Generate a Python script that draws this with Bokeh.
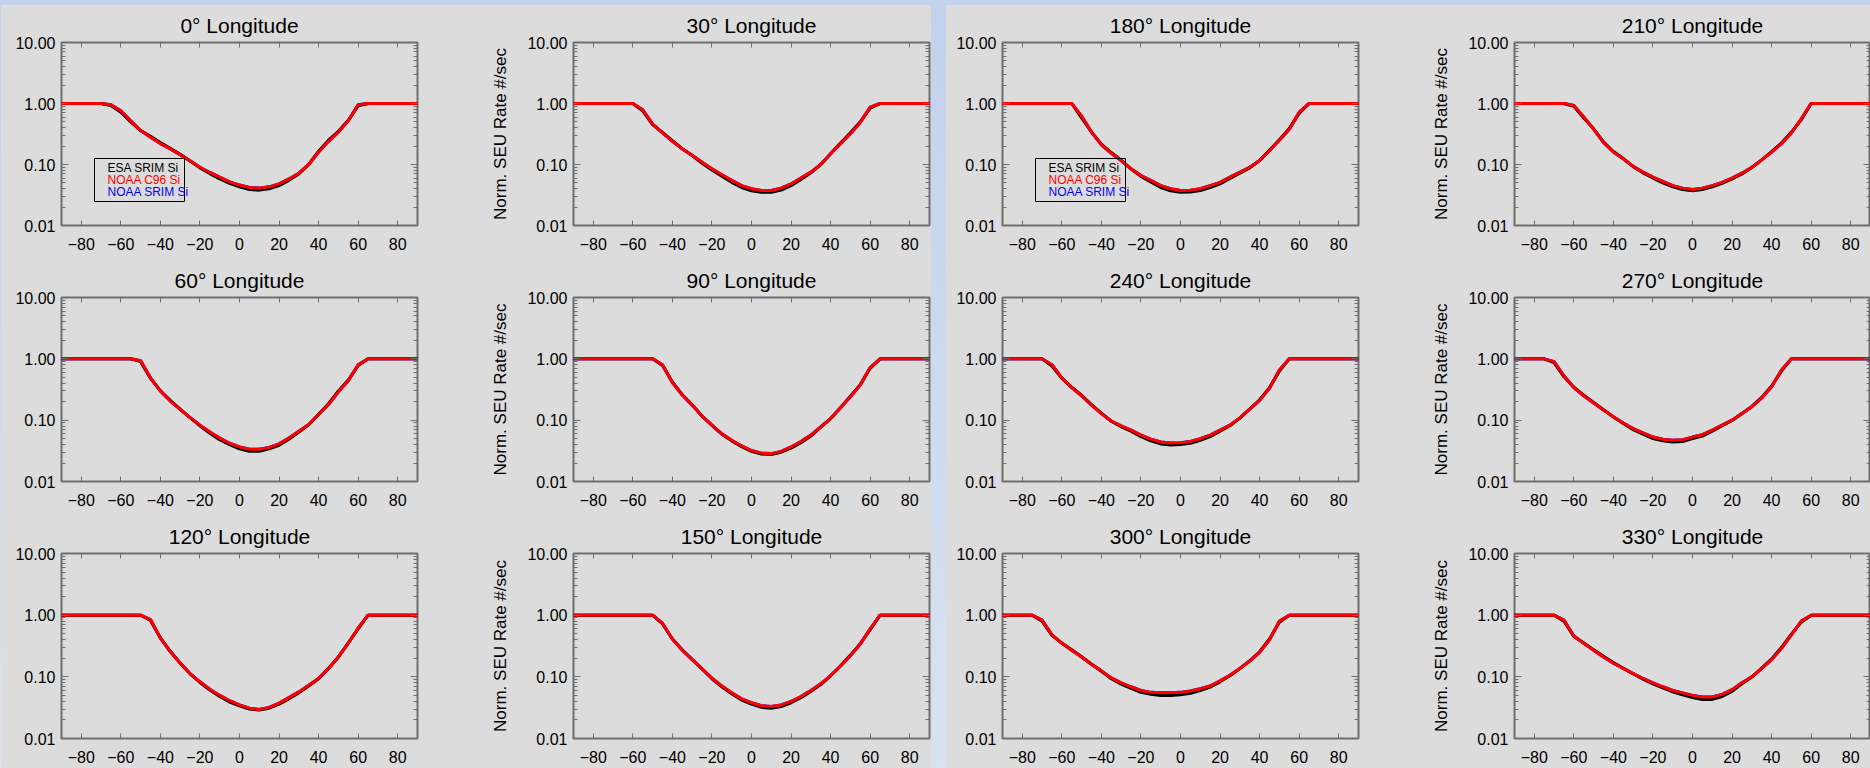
from bokeh.plotting import figure
from bokeh.layouts import row, column, Spacer
from bokeh.models import (Range1d, FixedTicker, PrintfTickFormatter, LinearAxis, LogAxis,
                          Label, BoxAnnotation, CustomJSTickFormatter)
from bokeh.embed import file_html
from bokeh.resources import INLINE

# ---------------- data ----------------
latitude = [-90, -85, -80, -75, -70, -65, -60, -55, -50, -45, -40, -35, -30, -25, -20, -15, -10, -5,
            0, 5, 10, 15, 20, 25, 30, 35, 40, 45, 50, 55, 60, 65, 70, 75, 80, 85, 90]
x_ticks = [-80, -60, -40, -20, 0, 20, 40, 60, 80]
y_ticks = [0.01, 0.1, 1.0, 10.0]
series_names = ["ESA SRIM Si", "NOAA C96 Si", "NOAA SRIM Si"]
series_colors = ["black", "red", "blue"]

# 0 deg
esa_srim_0 = [1, 1, 1, 1, 1, 0.93, 0.72, 0.50, 0.36, 0.29, 0.23, 0.185, 0.147, 0.114, 0.088, 0.071, 0.058,
              0.049, 0.043, 0.039, 0.038, 0.040, 0.045, 0.055, 0.070, 0.10, 0.165, 0.25, 0.35, 0.53, 0.92,
              1, 1, 1, 1, 1, 1]
noaa_c96_0 = [1, 1, 1, 1, 1, 0.95, 0.76, 0.52, 0.36, 0.28, 0.22, 0.18, 0.145, 0.115, 0.090, 0.074, 0.062,
              0.052, 0.046, 0.042, 0.041, 0.043, 0.048, 0.058, 0.072, 0.10, 0.16, 0.24, 0.34, 0.52, 0.95,
              1, 1, 1, 1, 1, 1]
# 30 deg
esa_srim_30 = [1, 1, 1, 1, 1, 1, 1, 0.76, 0.45, 0.335, 0.245, 0.182, 0.14, 0.105, 0.081, 0.064, 0.051, 0.042,
               0.037, 0.035, 0.035, 0.038, 0.045, 0.057, 0.073, 0.10, 0.15, 0.225, 0.33, 0.50, 0.84,
               1, 1, 1, 1, 1, 1]
noaa_c96_30 = [1, 1, 1, 1, 1, 1, 1, 0.79, 0.46, 0.33, 0.24, 0.18, 0.142, 0.109, 0.085, 0.068, 0.055, 0.045,
               0.040, 0.0375, 0.0375, 0.041, 0.048, 0.060, 0.075, 0.10, 0.15, 0.22, 0.32, 0.49, 0.87,
               1, 1, 1, 1, 1, 1]
# 60 deg
esa_srim_60 = [1, 1, 1, 1, 1, 1, 1, 1, 0.90, 0.48, 0.30, 0.21, 0.152, 0.11, 0.081, 0.061, 0.048, 0.040,
               0.034, 0.031, 0.031, 0.034, 0.039, 0.049, 0.064, 0.084, 0.125, 0.185, 0.30, 0.45, 0.78,
               1, 1, 1, 1, 1, 1]
noaa_c96_60 = [1, 1, 1, 1, 1, 1, 1, 1, 0.93, 0.49, 0.30, 0.205, 0.15, 0.11, 0.083, 0.064, 0.051, 0.042,
               0.0366, 0.0335, 0.0335, 0.036, 0.041, 0.051, 0.066, 0.085, 0.124, 0.18, 0.29, 0.44, 0.80,
               1, 1, 1, 1, 1, 1]
# 90 deg
esa_srim_90 = [1, 1, 1, 1, 1, 1, 1, 1, 1, 0.78, 0.42, 0.26, 0.178, 0.117, 0.082, 0.059, 0.046, 0.037,
               0.031, 0.028, 0.0275, 0.030, 0.035, 0.043, 0.055, 0.077, 0.106, 0.16, 0.245, 0.38, 0.70,
               1, 1, 1, 1, 1, 1]
noaa_c96_90 = [1, 1, 1, 1, 1, 1, 1, 1, 1, 0.80, 0.41, 0.257, 0.176, 0.116, 0.083, 0.060, 0.047, 0.038,
               0.032, 0.029, 0.0285, 0.031, 0.0366, 0.045, 0.057, 0.078, 0.106, 0.16, 0.24, 0.375, 0.72,
               1, 1, 1, 1, 1, 1]
# 120 deg
esa_srim_120 = [1, 1, 1, 1, 1, 1, 1, 1, 1, 0.82, 0.43, 0.26, 0.168, 0.112, 0.081, 0.061, 0.048, 0.039,
                0.034, 0.030, 0.029, 0.031, 0.036, 0.044, 0.055, 0.071, 0.093, 0.137, 0.21, 0.355, 0.60,
                1, 1, 1, 1, 1, 1]
noaa_c96_120 = [1, 1, 1, 1, 1, 1, 1, 1, 1, 0.85, 0.425, 0.257, 0.166, 0.113, 0.083, 0.063, 0.050, 0.041,
                0.035, 0.031, 0.0295, 0.032, 0.0375, 0.046, 0.057, 0.073, 0.094, 0.137, 0.21, 0.35, 0.62,
                1, 1, 1, 1, 1, 1]
# 150 deg
esa_srim_150 = [1, 1, 1, 1, 1, 1, 1, 1, 1, 0.72, 0.41, 0.275, 0.192, 0.134, 0.093, 0.069, 0.053, 0.042,
                0.036, 0.032, 0.031, 0.033, 0.038, 0.046, 0.058, 0.075, 0.104, 0.15, 0.225, 0.345, 0.58,
                1, 1, 1, 1, 1, 1]
noaa_c96_150 = [1, 1, 1, 1, 1, 1, 1, 1, 1, 0.74, 0.41, 0.27, 0.19, 0.135, 0.095, 0.071, 0.055, 0.044,
                0.038, 0.034, 0.033, 0.035, 0.040, 0.048, 0.060, 0.077, 0.105, 0.15, 0.22, 0.34, 0.60,
                1, 1, 1, 1, 1, 1]
# 180 deg
esa_srim_180 = [1, 1, 1, 1, 1, 1, 1, 1, 0.58, 0.34, 0.215, 0.157, 0.118, 0.084, 0.064, 0.052, 0.042, 0.037,
                0.035, 0.0355, 0.0375, 0.042, 0.048, 0.059, 0.072, 0.088, 0.116, 0.172, 0.255, 0.39, 0.69,
                1, 1, 1, 1, 1, 1]
noaa_c96_180 = [1, 1, 1, 1, 1, 1, 1, 1, 0.62, 0.34, 0.21, 0.153, 0.116, 0.085, 0.066, 0.055, 0.045, 0.040,
                0.0375, 0.038, 0.040, 0.045, 0.051, 0.062, 0.075, 0.090, 0.116, 0.17, 0.25, 0.38, 0.72,
                1, 1, 1, 1, 1, 1]
# 210 deg
esa_srim_210 = [1, 1, 1, 1, 1, 1, 0.90, 0.58, 0.385, 0.235, 0.163, 0.125, 0.092, 0.073, 0.060, 0.050, 0.043,
                0.039, 0.037, 0.039, 0.043, 0.049, 0.058, 0.070, 0.089, 0.119, 0.162, 0.225, 0.34, 0.54,
                1, 1, 1, 1, 1, 1, 1]
noaa_c96_210 = [1, 1, 1, 1, 1, 1, 0.93, 0.60, 0.38, 0.23, 0.16, 0.124, 0.093, 0.075, 0.062, 0.053, 0.045,
                0.041, 0.039, 0.041, 0.045, 0.051, 0.060, 0.072, 0.090, 0.119, 0.16, 0.22, 0.33, 0.56,
                1, 1, 1, 1, 1, 1, 1]
# 240 deg
esa_srim_240 = [1, 1, 1, 1, 1, 0.76, 0.48, 0.345, 0.255, 0.18, 0.13, 0.096, 0.078, 0.066, 0.054, 0.046,
                0.041, 0.0395, 0.040, 0.042, 0.047, 0.054, 0.066, 0.081, 0.108, 0.152, 0.215, 0.34, 0.63,
                1, 1, 1, 1, 1, 1, 1, 1]
noaa_c96_240 = [1, 1, 1, 1, 1, 0.80, 0.49, 0.34, 0.25, 0.176, 0.128, 0.097, 0.081, 0.069, 0.057, 0.049,
                0.044, 0.0425, 0.043, 0.045, 0.050, 0.057, 0.069, 0.083, 0.109, 0.151, 0.21, 0.33, 0.66,
                1, 1, 1, 1, 1, 1, 1, 1]
# 270 deg
esa_srim_270 = [1, 1, 1, 1, 0.87, 0.51, 0.345, 0.255, 0.195, 0.148, 0.113, 0.088, 0.070, 0.059, 0.050,
                0.046, 0.044, 0.045, 0.050, 0.055, 0.066, 0.081, 0.099, 0.128, 0.168, 0.235, 0.36, 0.63,
                1, 1, 1, 1, 1, 1, 1, 1, 1]
noaa_c96_270 = [1, 1, 1, 1, 0.90, 0.53, 0.34, 0.25, 0.19, 0.146, 0.114, 0.090, 0.073, 0.062, 0.053,
                0.049, 0.047, 0.048, 0.053, 0.058, 0.069, 0.083, 0.100, 0.128, 0.166, 0.23, 0.35, 0.66,
                1, 1, 1, 1, 1, 1, 1, 1, 1]
# 300 deg
esa_srim_300 = [1, 1, 1, 1, 0.80, 0.47, 0.355, 0.275, 0.212, 0.16, 0.123, 0.093, 0.076, 0.065, 0.056,
                0.052, 0.050, 0.050, 0.051, 0.054, 0.060, 0.068, 0.083, 0.104, 0.136, 0.182, 0.255, 0.41,
                0.77, 1, 1, 1, 1, 1, 1, 1, 1]
noaa_c96_300 = [1, 1, 1, 1, 0.83, 0.48, 0.35, 0.27, 0.21, 0.16, 0.125, 0.096, 0.080, 0.069, 0.060,
                0.056, 0.055, 0.055, 0.056, 0.059, 0.064, 0.071, 0.086, 0.106, 0.137, 0.18, 0.25, 0.40,
                0.80, 1, 1, 1, 1, 1, 1, 1, 1]
# 330 deg
esa_srim_330 = [1, 1, 1, 1, 1, 0.80, 0.45, 0.355, 0.275, 0.215, 0.17, 0.138, 0.112, 0.092, 0.077, 0.066,
                0.057, 0.051, 0.046, 0.043, 0.043, 0.048, 0.058, 0.077, 0.099, 0.138, 0.195, 0.30, 0.49,
                0.77, 1, 1, 1, 1, 1, 1, 1]
noaa_c96_330 = [1, 1, 1, 1, 1, 0.83, 0.46, 0.35, 0.27, 0.21, 0.166, 0.137, 0.113, 0.094, 0.080, 0.069,
                0.060, 0.055, 0.050, 0.047, 0.047, 0.052, 0.062, 0.080, 0.100, 0.137, 0.19, 0.29, 0.48,
                0.80, 1, 1, 1, 1, 1, 1, 1]

# NOAA SRIM Si lies exactly underneath NOAA C96 Si in every panel (not visible in the figure)
noaa_srim = {0: noaa_c96_0, 30: noaa_c96_30, 60: noaa_c96_60, 90: noaa_c96_90, 120: noaa_c96_120,
             150: noaa_c96_150, 180: noaa_c96_180, 210: noaa_c96_210, 240: noaa_c96_240,
             270: noaa_c96_270, 300: noaa_c96_300, 330: noaa_c96_330}
esa_srim = {0: esa_srim_0, 30: esa_srim_30, 60: esa_srim_60, 90: esa_srim_90, 120: esa_srim_120,
            150: esa_srim_150, 180: esa_srim_180, 210: esa_srim_210, 240: esa_srim_240,
            270: esa_srim_270, 300: esa_srim_300, 330: esa_srim_330}
noaa_c96 = {0: noaa_c96_0, 30: noaa_c96_30, 60: noaa_c96_60, 90: noaa_c96_90, 120: noaa_c96_120,
            150: noaa_c96_150, 180: noaa_c96_180, 210: noaa_c96_210, 240: noaa_c96_240,
            270: noaa_c96_270, 300: noaa_c96_300, 330: noaa_c96_330}

for k in esa_srim:
    assert len(esa_srim[k]) == len(latitude), k
    assert len(noaa_c96[k]) == len(latitude), k

# ---------------- style ----------------
GRAY = "#dcdcdc"
FRAME = "#6e6e6e"
FONT = "Liberation Sans"
YLABEL = "Norm. SEU Rate #/sec"

col_left = [60, 103, 56, 104]
col_right = [53, 2, 52, 0]
row_top = [37, 42, 42]
row_frame_h = [183, 184, 185]
BOTTOM = 30

y_minor = [m * d for d in (0.01, 0.1, 1.0) for m in (2, 3, 4, 5, 6, 7, 8, 9)]


def style_axis(ax, is_y, labels):
    ax.axis_line_color = None
    ax.major_tick_line_color = FRAME
    ax.minor_tick_line_color = FRAME
    ax.major_tick_out = 0
    ax.minor_tick_out = 0
    ax.major_tick_in = 7 if is_y else 5
    ax.minor_tick_in = 4
    if is_y:
        ax.ticker = FixedTicker(ticks=y_ticks, minor_ticks=y_minor)
    else:
        ax.ticker = FixedTicker(ticks=x_ticks, minor_ticks=[])
    if labels:
        ax.major_label_text_font = FONT
        ax.major_label_text_font_size = "16px"
        ax.major_label_text_color = "black"
        ax.major_label_standoff = 6 if is_y else 12
        if is_y:
            ax.formatter = PrintfTickFormatter(format="%.2f")
    else:
        ax.formatter = CustomJSTickFormatter(code="return ''")
        ax.major_label_text_font_size = "0px"
        ax.major_label_standoff = 0


def make_panel(lon, ci, ri, legend=False):
    p = figure(frame_width=356, frame_height=row_frame_h[ri],
               min_border_left=col_left[ci], min_border_right=col_right[ci],
               min_border_top=row_top[ri], min_border_bottom=BOTTOM,
               x_range=Range1d(-90, 90), y_range=Range1d(0.01, 10), y_axis_type="log",
               output_backend="svg", toolbar_location=None,
               background_fill_color=GRAY, border_fill_color=GRAY,
               outline_line_color=FRAME, outline_line_width=2,
               title=f"{lon}\u00b0 Longitude")
    p.grid.visible = False
    p.title.align = "center"
    p.title.text_font = FONT
    p.title.text_font_size = "21px"
    p.title.text_font_style = "normal"
    p.title.text_color = "black"
    p.title.standoff = 11

    style_axis(p.xaxis[0], False, True)
    style_axis(p.yaxis[0], True, True)
    top = LinearAxis()
    right = LogAxis()
    style_axis(top, False, False)
    style_axis(right, True, False)
    p.add_layout(top, "above")
    p.add_layout(right, "right")

    if ci in (1, 3):
        p.yaxis[0].axis_label = YLABEL
        p.yaxis[0].axis_label_text_font = FONT
        p.yaxis[0].axis_label_text_font_size = "17px"
        p.yaxis[0].axis_label_text_font_style = "normal"
        p.yaxis[0].axis_label_text_color = "black"
        p.yaxis[0].axis_label_standoff = 14

    for vals, color in ((noaa_srim[lon], "blue"), (esa_srim[lon], "black"), (noaa_c96[lon], "red")):
        p.line(latitude, vals, line_color=color, line_width=3)

    if legend:
        p.add_layout(BoxAnnotation(left=33, right=123, bottom=24, top=67,
                                   left_units="screen", right_units="screen",
                                   top_units="screen", bottom_units="screen",
                                   fill_color=GRAY, fill_alpha=0.0,
                                   line_color="black", line_alpha=1.0, line_width=1))
        for i, (name, color) in enumerate(zip(series_names, series_colors)):
            p.add_layout(Label(x=46, y=58 - 12 * i, x_units="screen", y_units="screen",
                               text=name, text_color=color, text_font=FONT,
                               text_font_size="12px", text_baseline="middle"))
    return p


left_grid = column(
    row(make_panel(0, 0, 0, legend=True), make_panel(30, 1, 0)),
    row(make_panel(60, 0, 1), make_panel(90, 1, 1)),
    row(make_panel(120, 0, 2), make_panel(150, 1, 2)),
    styles={"background": GRAY},
)
right_grid = column(
    row(make_panel(180, 2, 0, legend=True), make_panel(210, 3, 0)),
    row(make_panel(240, 2, 1), make_panel(270, 3, 1)),
    row(make_panel(300, 2, 2), make_panel(330, 3, 2)),
    styles={"background": GRAY},
)
body = row(Spacer(width=1, height=763), left_grid, Spacer(width=15, height=763), right_grid)
page = column(Spacer(width=1870, height=5), body,
              styles={"background": "linear-gradient(180deg, #c2d2ec 0%, #d8e2f1 100%)"})

open("out.html", "w").write(file_html(page, INLINE))
